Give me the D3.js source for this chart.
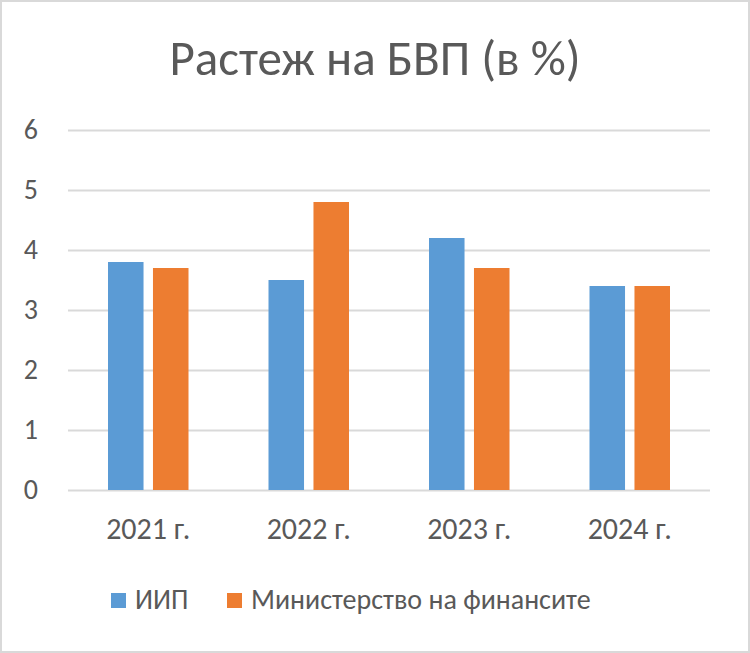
<!DOCTYPE html>
<html><head><meta charset="utf-8">
<script src="https://cdn.jsdelivr.net/npm/d3@7"></script>
<style>body{margin:0;background:#fff}svg{display:block}</style>
</head><body>
<svg id="c" width="750" height="653"></svg>
<script>
const categories = ["2021 г.", "2022 г.", "2023 г.", "2024 г."];
const seriesNames = ["ИИП", "Министерство на финансите"];
const iipValues = [3.8, 3.5, 4.2, 3.4];
const minfinValues = [3.7, 4.8, 3.7, 3.4];
const yTicks = [0, 1, 2, 3, 4, 5, 6];
const colors = ["#5b9bd5", "#ed7d31"];
const title = "Растеж на БВП (в %)";

(function(){
const font = "Calibri, Carlito, 'Open Sans', sans-serif";
const svg = d3.select("#c");
svg.append("rect").attr("x",1).attr("y",1).attr("width",748).attr("height",651)
  .attr("fill","#fff").attr("stroke","#d9d9d9").attr("stroke-width",2);

const pL = 68, pR = 710, pT = 130, pB = 490;
const y = d3.scaleLinear().domain([0, 6]).range([pB, pT]);
const x0 = d3.scaleBand().domain(categories).range([pL, pR]).padding(0);
const x1 = d3.scaleBand().domain(seriesNames).range([40, x0.bandwidth() - 40]).paddingInner(0.21).paddingOuter(0);

svg.append("text").attr("x", 375).attr("y", 75).attr("text-anchor","middle")
  .attr("font-family", font).attr("font-size", 49).attr("fill","#595959").text(title);

const yAxis = d3.axisLeft(y).tickValues(yTicks).tickSize(-(pR-pL)).tickFormat(d3.format("d"));
const gy = svg.append("g").attr("transform", `translate(${pL},0)`).call(yAxis);
gy.select(".domain").remove();
gy.selectAll(".tick line").attr("stroke","#d9d9d9").attr("stroke-width",2);
gy.selectAll(".tick text").attr("x",-30).attr("font-family",font).attr("font-size",28).attr("fill","#595959");

const data = categories.map((c,i)=>({c, vals:[iipValues[i], minfinValues[i]]}));
const groups = svg.append("g").selectAll("g").data(data).join("g")
  .attr("transform", d=>`translate(${x0(d.c)},0)`);
groups.selectAll("rect").data(d=>d.vals.map((v,j)=>({v, s:seriesNames[j], j})))
  .join("rect")
  .attr("x", d=>x1(d.s)).attr("width", x1.bandwidth())
  .attr("y", d=>y(d.v)).attr("height", d=>pB - y(d.v))
  .attr("fill", d=>colors[d.j]);

const xAxis = d3.axisBottom(x0).tickSize(0).tickPadding(28);
const gx = svg.append("g").attr("transform", `translate(0,${pB})`).call(xAxis);
gx.select(".domain").remove();
gx.selectAll(".tick text").attr("font-family",font).attr("font-size",30).attr("fill","#595959");

const legendX = [111, 227];
const lg = svg.append("g").selectAll("g").data(seriesNames).join("g")
  .attr("transform",(d,i)=>`translate(${legendX[i]},593)`);
lg.append("rect").attr("width",15).attr("height",15).attr("fill",(d,i)=>colors[i]);
lg.append("text").attr("x",24).attr("y",16).attr("font-family",font).attr("font-size",28)
  .attr("fill","#595959").text(d=>d);
})();
</script>
</body></html>
